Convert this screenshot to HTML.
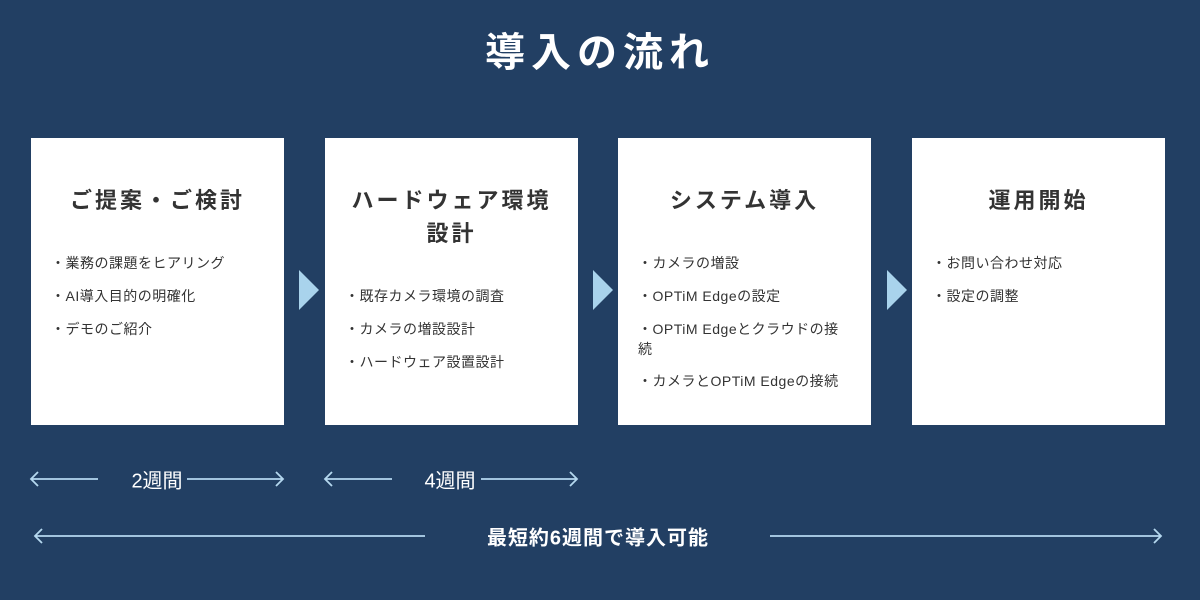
<!DOCTYPE html>
<html><head><meta charset="utf-8"><style>
body{margin:0;width:1200px;height:600px;background:#223f63;font-family:"Liberation Sans","Noto Sans CJK JP",sans-serif;position:relative;overflow:hidden}
.t{position:absolute;left:0;width:1200px;top:20px;text-align:center;color:#fff;font-size:40px;font-weight:bold;letter-spacing:6px}
.b{position:absolute;top:138px;width:253px;height:287px;background:#fff;color:#333}
.h{position:absolute;top:46px;left:0;width:100%;text-align:center;font-size:22px;font-weight:bold;letter-spacing:3px;line-height:33px}
.l{position:absolute;left:20px;right:14px;font-size:14px;line-height:20px;color:#333;letter-spacing:0.5px}
.tri{position:absolute;top:270px;width:0;height:0;border-top:20px solid transparent;border-bottom:20px solid transparent;border-left:20px solid #a9d3ec}
.lb{position:absolute;color:#fff;font-size:20px;transform:translate(-50%,-50%);white-space:nowrap}
svg{position:absolute;left:0;top:0}
</style></head><body>
<div class="t">導入の流れ</div>
<div class="b" style="left:31px"><div class="h">ご提案・ご検討</div>
<div class="l" style="top:115px">・業務の課題をヒアリング</div>
<div class="l" style="top:148px">・AI導入目的の明確化</div>
<div class="l" style="top:181px">・デモのご紹介</div></div>
<div class="b" style="left:325px"><div class="h">ハードウェア環境<br>設計</div>
<div class="l" style="top:148px">・既存カメラ環境の調査</div>
<div class="l" style="top:181px">・カメラの増設設計</div>
<div class="l" style="top:214px">・ハードウェア設置設計</div></div>
<div class="b" style="left:618px"><div class="h">システム導入</div>
<div class="l" style="top:115px">・カメラの増設</div>
<div class="l" style="top:148px">・OPTiM Edgeの設定</div>
<div class="l" style="top:181px;right:22px">・OPTiM Edgeとクラウドの接続</div>
<div class="l" style="top:233px">・カメラとOPTiM Edgeの接続</div></div>
<div class="b" style="left:912px"><div class="h">運用開始</div>
<div class="l" style="top:115px">・お問い合わせ対応</div>
<div class="l" style="top:148px">・設定の調整</div></div>
<div class="tri" style="left:299px"></div>
<div class="tri" style="left:593px"></div>
<div class="tri" style="left:887px"></div>
<svg width="1200" height="600" fill="none" stroke="#b5d8ef" stroke-width="1.8">
<path d="M31 479H98M38 472l-7 7 7 7"/><path d="M187 479H283M276 472l7 7-7 7"/>
<path d="M325 479H392M332 472l-7 7 7 7"/><path d="M481 479H577M570 472l7 7-7 7"/>
<path d="M35 536H425M42 529l-7 7 7 7"/><path d="M770 536H1161M1154 529l7 7-7 7"/>
</svg>
<div class="lb" style="left:157px;top:479px">2週間</div>
<div class="lb" style="left:450px;top:479px">4週間</div>
<div class="lb" style="left:598px;top:536px;font-weight:bold;letter-spacing:1px">最短約6週間で導入可能</div>
</body></html>
